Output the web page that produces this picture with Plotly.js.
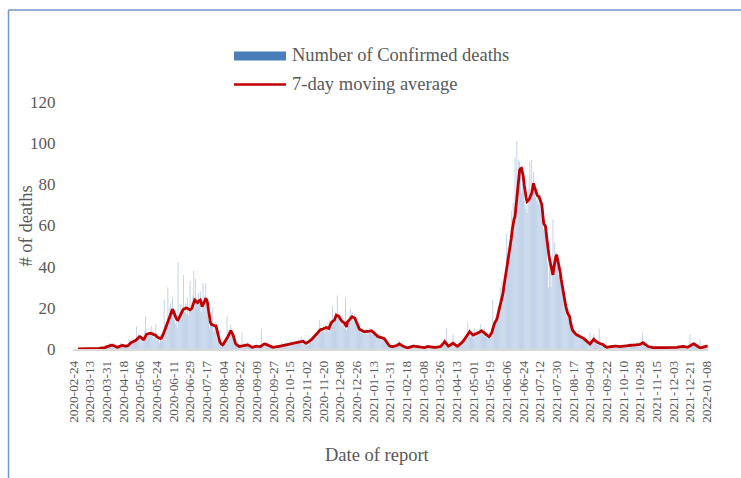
<!DOCTYPE html>
<html>
<head>
<meta charset="utf-8">
<script src="https://cdn.plot.ly/plotly-3.0.1.min.js"></script>
<style>html,body{margin:0;padding:0;background:#fff;}#chart{width:741px;height:478px;}</style>
</head>
<body>
<div id="chart"></div>
<script>
// ---- DATA ----
const START_DATE = '2020-02-24';

const tickLabels = [
  '2020-02-24','2020-03-13','2020-03-31','2020-04-18','2020-05-06','2020-05-24','2020-06-11','2020-06-29',
  '2020-07-17','2020-08-04','2020-08-22','2020-09-09','2020-09-27','2020-10-15','2020-11-02','2020-11-20',
  '2020-12-08','2020-12-26','2021-01-13','2021-01-31','2021-02-18','2021-03-08','2021-03-26','2021-04-13',
  '2021-05-01','2021-05-19','2021-06-06','2021-06-24','2021-07-12','2021-07-30','2021-08-17','2021-09-04',
  '2021-09-22','2021-10-10','2021-10-28','2021-11-15','2021-12-03','2021-12-21','2022-01-08'
];

const yTicks = [0, 20, 40, 60, 80, 100, 120];

// Number of confirmed deaths per day (from 2020-02-24)
const confirmedDeaths = [
/*0*/   0,0,0,0,0,0,0,0,0,0,
/*10*/  0,0,0,0,0,0,0,0,0,0,
/*20*/  0,0,1,0,0,0,1,0,0,1,
/*30*/  0,1,1,0,1,2,1,2,2,3,
/*40*/  2,1,2,3,1,0,1,1,2,1,
/*50*/  2,3,1,2,1,1,2,1,2,3,
/*60*/  5,4,2,3,4,5,3,4,11,5,
/*70*/  7,6,4,5,3,4,6,9,16,8,
/*80*/  6,8,7,8,11,6,9,5,7,12,
/*90*/  4,6,5,3,7,4,6,9,24,8,
/*100*/ 10,13,30,15,20,22,18,25,20,14,
/*110*/ 12,16,10,42,14,18,22,15,20,36,
/*120*/ 18,22,17,25,16,20,33,19,23,26,
/*130*/ 38,20,34,24,21,27,22,28,18,24,
/*140*/ 32,20,26,32,22,24,14,10,16,12,
/*150*/ 20,8,12,13,9,5,3,4,2,3,
/*160*/ 1,2,3,4,5,6,16,7,9,8,
/*170*/ 12,10,6,5,3,2,2,1,1,2,
/*180*/ 1,2,8,1,2,3,1,2,3,2,
/*190*/ 2,1,1,0,1,1,2,1,2,1,
/*200*/ 1,2,1,10,2,3,2,3,2,3,
/*210*/ 2,1,2,1,1,0,1,1,0,1,
/*220*/ 2,1,1,2,1,3,2,1,2,3,
/*230*/ 2,3,2,1,3,4,2,3,4,2,
/*240*/ 3,4,3,5,3,4,6,3,5,2,
/*250*/ 3,2,4,3,2,5,4,3,6,5,
/*260*/ 7,5,8,6,9,10,14,8,9,10,
/*270*/ 11,8,12,10,9,13,8,14,12,11,
/*280*/ 21,13,15,18,14,26,16,17,12,14,
/*290*/ 11,15,13,10,25,9,14,13,16,20,
/*300*/ 14,18,15,13,17,12,11,13,9,10,
/*310*/ 8,9,10,7,9,8,10,7,9,8,
/*320*/ 10,8,9,7,8,9,6,7,6,5,
/*330*/ 7,5,6,4,6,5,4,3,3,2,
/*340*/ 2,1,2,1,1,2,1,1,2,1,
/*350*/ 3,2,4,1,2,1,2,1,1,0,
/*360*/ 1,0,1,1,2,1,1,2,1,2,
/*370*/ 1,1,2,1,1,0,1,1,0,1,
/*380*/ 1,1,2,1,1,1,0,1,1,1,
/*390*/ 1,0,1,1,0,1,2,1,3,3,
/*400*/ 4,5,2,10,1,1,2,3,2,3,
/*410*/ 7,2,1,2,1,2,2,3,2,4,
/*420*/ 4,3,5,6,4,7,13,8,10,6,
/*430*/ 8,7,5,10,6,8,7,9,8,10,
/*440*/ 12,8,9,7,10,6,8,5,7,6,
/*450*/ 8,5,10,24,12,14,13,15,18,20,
/*460*/ 22,30,20,33,28,34,35,38,56,44,
/*470*/ 45,48,52,67,58,71,62,93,70,101,
/*480*/ 82,92,91,88,76,85,80,72,68,70,
/*490*/ 66,70,78,91,72,92,75,86,80,74,
/*500*/ 72,78,70,76,71,68,73,64,58,62,
/*510*/ 60,55,42,30,45,38,30,40,63,38,
/*520*/ 52,46,47,40,36,38,32,33,28,26,
/*530*/ 25,20,22,16,19,14,15,11,10,8,
/*540*/ 9,7,8,6,7,6,9,5,6,5,
/*550*/ 6,5,4,6,3,4,3,2,8,2,
/*560*/ 4,3,7,6,4,3,2,3,10,3,
/*570*/ 2,3,2,1,1,0,1,1,0,1,
/*580*/ 1,2,1,1,2,1,2,1,1,2,
/*590*/ 1,1,2,1,2,1,2,1,2,2,
/*600*/ 2,1,3,2,1,3,2,2,1,3,
/*610*/ 2,1,3,2,2,8,3,2,1,2,
/*620*/ 1,2,1,0,1,1,0,1,1,0,
/*630*/ 0,1,0,1,0,1,1,0,1,1,
/*640*/ 1,0,1,1,0,1,0,1,1,0,
/*650*/ 1,1,0,1,2,1,1,2,1,2,
/*660*/ 1,1,0,1,2,1,7,2,3,2,
/*670*/ 3,2,1,2,1,0,1,5,1,1,
/*680*/ 1,2,1,2,1,2
];

// 7-day moving average as drawn (same days)
const movingAverage = [
/*0*/   null,null,null,null,null,0,0,0,0,0,
/*10*/  0,0,0,0,0,0,0,0,0,0,
/*20*/  0,0,0,0.1,0.1,0.1,0.3,0.3,0.3,0.4,
/*30*/  0.4,0.4,0.6,0.7,0.7,0.9,1.1,1.4,1.7,1.8,
/*40*/  1.9,1.9,1.8,1.8,1.6,1.3,1.0,0.8,0.9,1.1,
/*50*/  1.4,1.7,1.8,1.8,1.6,1.4,1.4,1.4,1.4,1.6,
/*60*/  2.1,2.8,3.0,3.3,3.4,3.6,3.9,4.1,4.4,4.7,
/*70*/  5.3,5.9,6.0,5.7,5.1,4.7,4.7,5.6,6.8,7.1,
/*80*/  7.3,7.5,7.6,7.7,7.6,7.4,7.3,7.3,7.0,6.6,
/*90*/  6.0,5.7,5.4,5.1,5.0,5.3,6.0,7.2,8.4,9.6,
/*100*/ 11.0,12.5,14.0,15.4,16.6,17.6,18.6,19.3,18.4,17.0,
/*110*/ 15.7,14.9,14.3,14.1,15.0,16.2,17.1,18.0,18.8,19.3,
/*120*/ 19.6,19.8,19.9,19.8,19.5,19.2,19.0,19.4,19.8,21.2,
/*130*/ 22.6,23.8,23.4,22.9,22.5,23.1,23.6,23.8,22.4,20.6,
/*140*/ 21.5,22.8,24.0,24.6,23.8,22.0,18.5,14.1,12.8,12.0,
/*150*/ 11.7,11.5,11.3,11.2,11.2,9.2,6.5,4.9,3.6,2.8,
/*160*/ 2.2,2.0,2.4,3.0,3.6,4.4,5.3,6.1,6.8,8.0,
/*170*/ 8.9,8.3,7.2,6.0,4.2,2.8,2.2,1.7,1.4,1.2,
/*180*/ 1.3,1.4,1.6,1.7,1.8,1.8,1.9,2.0,2.0,1.9,
/*190*/ 1.6,1.3,1.0,0.8,0.9,1.1,1.3,1.4,1.4,1.3,
/*200*/ 1.2,1.2,1.2,1.5,1.9,2.2,2.4,2.5,2.3,2.0,
/*210*/ 1.7,1.4,1.2,1.1,1.0,0.9,0.8,0.8,0.9,1.0,
/*220*/ 1.1,1.2,1.3,1.4,1.5,1.6,1.7,1.8,1.9,2.0,
/*230*/ 2.1,2.2,2.3,2.4,2.5,2.6,2.7,2.8,2.9,3.0,
/*240*/ 3.1,3.3,3.4,3.5,3.6,3.8,3.9,4.0,3.8,3.4,
/*250*/ 3.0,2.8,2.9,3.2,3.4,3.6,4.0,4.5,5.0,5.5,
/*260*/ 6.0,6.4,6.8,7.4,8.0,8.6,9.2,9.4,9.5,9.6,
/*270*/ 9.8,10.0,10.2,10.4,10.3,10.1,10.0,11.2,12.5,13.0,
/*280*/ 13.4,13.8,14.1,15.3,16.5,16.3,16.0,15.7,14.8,13.8,
/*290*/ 13.5,13.2,12.8,12.5,11.6,10.7,13.2,13.6,14.0,14.5,
/*300*/ 15.1,15.7,15.5,15.2,15.0,13.8,12.5,11.5,10.5,9.6,
/*310*/ 9.3,9.0,8.7,8.4,8.4,8.4,8.4,8.4,8.4,8.5,
/*320*/ 8.7,8.8,8.9,8.5,8.0,7.6,7.2,6.8,6.4,6.0,
/*330*/ 5.9,5.8,5.7,5.5,5.3,5.1,5.0,4.2,3.4,2.6,
/*340*/ 2.0,1.7,1.4,1.2,1.2,1.2,1.3,1.3,1.4,1.4,
/*350*/ 1.8,2.2,2.5,2.2,1.8,1.6,1.4,1.2,1.0,0.8,
/*360*/ 0.6,0.5,0.7,0.9,1.1,1.2,1.3,1.4,1.4,1.3,
/*370*/ 1.3,1.2,1.2,1.1,1.0,0.9,0.8,0.7,0.6,0.7,
/*380*/ 0.8,1.0,1.1,1.2,1.1,1.0,0.9,0.9,0.8,0.8,
/*390*/ 0.8,0.8,0.8,0.8,0.8,0.9,1.1,1.4,1.8,2.4,
/*400*/ 3.0,3.6,3.0,2.2,1.7,1.4,1.6,1.9,2.2,2.5,
/*410*/ 2.8,2.5,2.1,1.8,1.5,1.4,1.7,2.1,2.5,2.8,
/*420*/ 3.3,3.8,4.4,5.0,5.5,6.0,6.8,7.6,8.4,7.9,
/*430*/ 7.4,7.0,6.8,7.0,7.2,7.4,7.5,7.6,7.9,8.3,
/*440*/ 8.6,8.9,8.5,8.0,7.6,7.3,7.0,6.6,6.3,6.0,
/*450*/ 6.6,7.3,8.0,9.8,11.7,12.6,13.4,14.0,15.6,17.5,
/*460*/ 19.3,20.8,22.4,24.0,27.0,30.3,33.0,35.7,38.4,41.1,
/*470*/ 43.8,46.5,50.2,53.8,57.8,61.9,63.1,64.3,69.1,74.0,
/*480*/ 78.8,83.7,87.0,87.6,87.8,85.8,83.7,79.6,75.6,73.6,
/*490*/ 71.6,72.0,72.4,73.5,74.5,75.6,78.0,80.5,78.9,77.3,
/*500*/ 74.9,74.6,74.3,74.0,72.7,71.3,70.0,65.5,61.0,60.2,
/*510*/ 59.5,55.2,50.8,46.5,44.3,42.1,40.0,38.0,36.0,39.6,
/*520*/ 43.3,44.6,45.8,43.9,42.0,40.0,36.8,33.5,30.3,27.8,
/*530*/ 25.4,23.0,20.5,18.1,17.3,16.5,15.7,12.8,10.0,9.3,
/*540*/ 8.6,7.9,7.5,7.1,6.8,6.6,6.4,6.3,6.0,5.7,
/*550*/ 5.5,5.2,4.8,4.4,4.0,3.6,3.2,2.8,2.4,3.0,
/*560*/ 3.6,4.2,4.7,4.3,3.9,3.5,3.1,3.0,2.8,2.7,
/*570*/ 2.6,2.5,2.2,1.8,1.4,1.0,0.8,0.9,1.0,1.1,
/*580*/ 1.2,1.2,1.3,1.3,1.4,1.4,1.4,1.3,1.3,1.2,
/*590*/ 1.2,1.2,1.3,1.3,1.4,1.4,1.4,1.5,1.5,1.6,
/*600*/ 1.7,1.8,1.8,1.9,1.9,1.9,1.9,1.9,1.9,1.9,
/*610*/ 1.9,1.9,2.2,2.5,2.8,3.1,2.8,2.4,2.0,1.7,
/*620*/ 1.4,1.2,1.1,0.9,0.8,0.7,0.7,0.6,0.6,0.6,
/*630*/ 0.5,0.5,0.5,0.5,0.6,0.6,0.7,0.7,0.8,0.8,
/*640*/ 0.7,0.7,0.7,0.6,0.6,0.6,0.6,0.7,0.7,0.7,
/*650*/ 0.8,0.8,0.8,0.9,1.0,1.1,1.2,1.3,1.4,1.3,
/*660*/ 1.2,1.0,0.9,0.8,1.0,1.3,1.6,1.8,2.1,2.3,
/*670*/ 2.5,2.3,2.0,1.7,1.4,1.0,0.7,0.5,0.6,0.8,
/*680*/ 1.0,1.2,1.3,1.3,1.4,1.4
];

const legendLabels = ['Number of Confirmed deaths', '7-day moving average'];
const xTitle = 'Date of report';
const yTitle = '# of deaths';

// ---- build dates (categories) ----
function dayString(offset) {
  const d = new Date(START_DATE + 'T00:00:00Z');
  d.setUTCDate(d.getUTCDate() + offset);
  return d.toISOString().slice(0, 10);
}
const dates = confirmedDeaths.map((_, i) => dayString(i));

// ---- pixel helpers for paper coords (plot area 73..708 x, 102..349 y) ----
const L = 73, R = 708, T = 102, B = 349;
const px = x => (x - L) / (R - L);
const py = y => (B - y) / (B - T);

const FONT = 'Liberation Serif, "Times New Roman", serif';
const GREY = '#595959';

const traces = [
  {
    type: 'bar', x: dates, y: confirmedDeaths, name: legendLabels[0],
    marker: { color: '#b7cbe5', line: { width: 0 } },
    hoverinfo: 'x+y'
  },
  {
    type: 'scatter', mode: 'lines', x: dates, y: movingAverage, name: legendLabels[1],
    line: { color: '#c00000', width: 2.8 },
    connectgaps: false, hoverinfo: 'x+y'
  }
];

const layout = {
  width: 741, height: 478,
  margin: { l: L, r: 741 - R, t: T, b: 478 - B, pad: 0 },
  paper_bgcolor: '#ffffff', plot_bgcolor: '#ffffff',
  showlegend: false,
  bargap: 0.1,
  font: { family: FONT, color: GREY },
  xaxis: {
    type: 'date',
    range: ['2020-02-23 12:00', '2022-01-09 12:00'],
    tickvals: tickLabels, ticktext: tickLabels,
    tickangle: -90,
    tickfont: { family: FONT, size: 13.3, color: GREY },
    ticks: 'outside', ticklen: 5, tickcolor: 'rgba(0,0,0,0)',
    showgrid: false, zeroline: false,
    showline: true, linecolor: '#d9d9d9', linewidth: 1.5
  },
  yaxis: {
    range: [0, 120],
    tickvals: yTicks,
    tickfont: { family: FONT, size: 17, color: GREY },
    ticks: 'outside', ticklen: 13, tickcolor: 'rgba(0,0,0,0)',
    showgrid: false, zeroline: false, showline: false
  },
  shapes: [
    // chart frame (left & top)
    { type: 'line', xref: 'paper', yref: 'paper', x0: px(8.5), x1: px(8.5), y0: py(10), y1: py(480),
      line: { color: '#7096c9', width: 1.5 } },
    { type: 'line', xref: 'paper', yref: 'paper', x0: px(8.5), x1: px(745), y0: py(10), y1: py(10),
      line: { color: '#7096c9', width: 1.5 } },
    // legend keys
    { type: 'rect', xref: 'paper', yref: 'paper', x0: px(234), x1: px(286), y0: py(60.5), y1: py(51.5),
      fillcolor: '#4a7ebb', line: { width: 0 } },
    { type: 'line', xref: 'paper', yref: 'paper', x0: px(234), x1: px(286), y0: py(84.5), y1: py(84.5),
      line: { color: '#c00000', width: 2.6 } }
  ],
  annotations: [
    { text: legendLabels[0], xref: 'paper', yref: 'paper', x: px(290), y: py(55.5),
      xanchor: 'left', yanchor: 'middle', showarrow: false,
      font: { family: FONT, size: 18.5, color: GREY } },
    { text: legendLabels[1], xref: 'paper', yref: 'paper', x: px(290), y: py(84),
      xanchor: 'left', yanchor: 'middle', showarrow: false,
      font: { family: FONT, size: 18.5, color: GREY } },
    { text: yTitle, xref: 'paper', yref: 'paper', x: px(25), y: py(226.5),
      xanchor: 'center', yanchor: 'middle', textangle: -90, showarrow: false,
      font: { family: FONT, size: 18.5, color: GREY } },
    { text: xTitle, xref: 'paper', yref: 'paper', x: px(377), y: py(455),
      xanchor: 'center', yanchor: 'middle', showarrow: false,
      font: { family: FONT, size: 18.5, color: GREY } }
  ]
};

Plotly.newPlot('chart', traces, layout, { displayModeBar: false, staticPlot: true });
</script>
</body>
</html>
